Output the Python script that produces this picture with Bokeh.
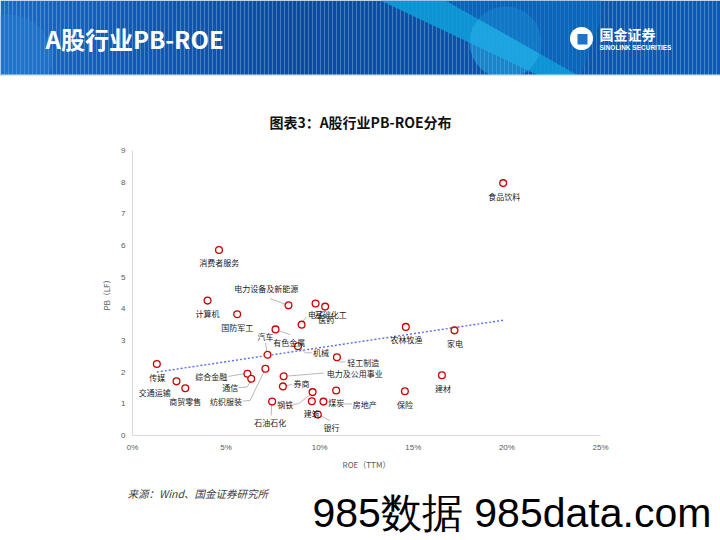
import numpy as np
from bokeh.plotting import figure
from bokeh.models import Range1d, FixedTicker, PrintfTickFormatter
from bokeh.embed import file_html
from bokeh.resources import INLINE
from bokeh.core.properties import value

# ---------------- data ----------------
industries = ["食品饮料", "消费者服务", "电力设备及新能源", "计算机", "国防军工",
              "医药", "基础化工", "电子", "有色金属", "汽车",
              "机械", "轻工制造", "综合金融", "通信", "纺织服装",
              "石油石化", "电力及公用事业", "券商", "钢铁", "建筑",
              "煤炭", "房地产", "银行", "农林牧渔", "家电",
              "建材", "保险", "传媒", "交通运输", "商贸零售"]
roe = [19.80, 4.62, 8.33, 4.01, 5.59,
       9.78, 10.29, 9.03, 7.64, 7.21,
       8.84, 10.92, 6.14, 6.34, 7.10,
       7.46, 8.07, 8.03, 9.62, 9.58,
       10.88, 10.20, 9.90, 14.60, 17.20,
       16.53, 14.55, 1.30, 2.35, 2.82]
pb = [7.97, 5.86, 4.11, 4.26, 3.83,
      4.17, 4.07, 3.50, 3.35, 2.55,
      2.82, 2.47, 1.95, 1.79, 2.11,
      1.07, 1.87, 1.55, 1.37, 1.08,
      1.42, 1.07, 0.66, 3.43, 3.32,
      1.90, 1.40, 2.26, 1.71, 1.49]
x_ticks = [0, 5, 10, 15, 20, 25]
y_ticks = [0, 1, 2, 3, 4, 5, 6, 7, 8, 9]

# ---------------- layout / style (pixels) ----------------
CJK = "Noto Sans CJK SC"
LAT = "Liberation Sans"
# label offsets from each point (px, y down)
lab_off = [(1, 13.3), (0.3, 12.7), (-22.3, -16.4), (0, 13.3), (0, 13.6),
           (10.7, 16.5), (5.7, 8), (14.4, -10.3), (13.7, 12.7), (-2, -18.3),
           (23, 6.6), (26.3, 5.6), (-36.3, 2.7), (-21, 8.4), (-39.3, 32.4),
           (-2, 20.7), (71.2, -3), (18.8, -2.7), (-27.3, 12.3), (0, 12),
           (0, 12.3), (41.4, 3.3), (13.6, 12.5), (0.6, 13), (0.4, 12.7),
           (1.1, 13), (0, 13.3), (0.3, 13.4), (-21.8, 10.7), (0, 13.3)]
# leader lines: index of point -> polyline of px offsets from the point
leaders = {
    2: [(-18.3, -6.7), (-3.3, -1.2)],
    7: [(1.2, -3.3), (4.7, -7.8)],
    8: [(3.2, 1.3), (14.7, 5.3)],
    9: [(-2, -11.8), (-0.6, -2.8)],
    10: [(2.3, 2.1), (7.3, 6.6), (13.8, 6.6)],
    11: [(1, 3), (2, 4.7), (8.5, 4.7)],
    12: [(-19, 2.7), (-2.3, -0.3)],
    13: [(-12.7, 8.7), (-4.3, 8.4), (-0.5, 2.5)],
    14: [(-22.6, 32.4), (-15.3, 31.7), (-1.3, 2.7)],
    15: [(-0.5, 3.3), (-1, 14)],
    16: [(3.2, -0.2), (40.2, -3.2)],
    17: [(3.3, -0.7), (9.3, -2)],
    18: [(-20, 12.3), (-14, 11.6), (-2, 2.3)],
    21: [(20.2, 2.3), (28.4, 2.3)],
    22: [(2.8, 1.3), (12.3, 6.1)],
}

W, H = 720, 540
HEAD_H = 76          # header band
TITLE_B = 140        # bottom of chart-title strip
MAIN_B = 475         # bottom of chart figure
FL, FT, FW, FH = 132, 150, 468, 285  # plot frame in page px


def strip(height):
    f = figure(width=W, height=height, x_range=Range1d(0, W), y_range=Range1d(height, 0),
               output_backend="svg", toolbar_location=None, min_border=0)
    f.axis.visible = False
    f.grid.visible = False
    f.outline_line_color = None
    f.background_fill_color = "white"
    f.border_fill_color = "white"
    return f

# ---------------- header ----------------
h = strip(HEAD_H)
stops_x = [0, 120, 300, 420, 720]
stops_c = [(26, 108, 198), (18, 92, 182), (10, 76, 158), (10, 82, 166), (12, 92, 180)]
lefts = np.arange(0, W, 4)
cols = []
for lx in lefts:
    c = [int(np.interp(lx + 2, stops_x, [s[k] for s in stops_c])) for k in range(3)]
    cols.append("#%02x%02x%02x" % tuple(c))
h.quad(left=lefts, right=lefts + 4, top=0, bottom=HEAD_H, fill_color=cols, line_color=None)
h.circle(x=[8], y=[58], radius=44, fill_color="#2f8ad8", fill_alpha=0.35, line_color=None)
h.patch(x=[380, 445, 580, 540], y=[0, 0, 76, 76], fill_color="#0e9ad8", fill_alpha=0.9, line_color=None)
h.circle(x=[505], y=[42], radius=36, fill_color="#29b3ec", fill_alpha=0.5, line_color=None)
h.patch(x=[445, 600, 600, 580], y=[0, 0, 20, 76], fill_color="#0a70c4", fill_alpha=0.6, line_color=None)
h.quad(left=0, right=W, top=74, bottom=76, fill_color="#d6e7f6", line_color=None)
# logo
h.circle(x=[581], y=[38], radius=11.5, fill_color="white", line_color=None)
h.quad(left=577, right=587, top=33.5, bottom=44, fill_color="#1a74c9", line_color=None)
h.text(x=[45], y=[38], text=["A股行业PB-ROE"], text_color="white", text_font=value(CJK),
       text_font_style="bold", text_font_size="24px", text_baseline="middle", text_align="left")
h.text(x=[599], y=[33], text=["国金证券"], text_color="white", text_font=value(CJK),
       text_font_style="bold", text_font_size="14px", text_baseline="middle", text_align="left")
h.text(x=[599], y=[46.5], text=["SINOLINK SECURITIES"], text_color="white", text_font=value(LAT),
       text_font_style="bold", text_font_size="6.5px", text_baseline="middle", text_align="left")

# ---------------- chart title strip ----------------
t = strip(TITLE_B - HEAD_H)
t.text(x=[360], y=[121 - HEAD_H], text=["图表3：A股行业PB-ROE分布"], text_font=value(CJK),
       text_font_size="14px", text_font_style="bold", text_color="#111111",
       text_align="center", text_baseline="middle")

# ---------------- main chart ----------------
p = figure(width=W, height=MAIN_B - TITLE_B, x_range=Range1d(0, 25), y_range=Range1d(0, 9),
           output_backend="svg", toolbar_location=None,
           min_border_left=FL, min_border_right=W - FL - FW,
           min_border_top=FT - TITLE_B, min_border_bottom=MAIN_B - FT - FH)
p.grid.visible = False
p.outline_line_color = None
p.xaxis.ticker = FixedTicker(ticks=x_ticks)
p.xaxis.formatter = PrintfTickFormatter(format="%d%%")
p.yaxis.ticker = FixedTicker(ticks=y_ticks)
p.xaxis.axis_label = "ROE（TTM）"
p.yaxis.axis_label = "PB（LF）"
for ax in p.axis:
    ax.axis_line_color = "#d9d9d9"
    ax.axis_line_width = 1
    ax.major_tick_line_color = None
    ax.minor_tick_line_color = None
    ax.major_tick_out = 0
    ax.major_tick_in = 0
    ax.minor_tick_out = 0
    ax.minor_tick_in = 0
    ax.major_label_text_font = LAT
    ax.major_label_text_font_size = "8px"
    ax.major_label_text_color = "#595959"
    ax.axis_label_text_font = CJK
    ax.axis_label_text_font_size = "8px"
    ax.axis_label_text_font_style = "normal"
    ax.axis_label_text_color = "#595959"
p.xaxis.major_label_standoff = 7
p.yaxis.major_label_standoff = 7
p.xaxis.axis_label_standoff = 4
p.yaxis.axis_label_standoff = 6

PXX = FW / 25.0
PXY = FH / 9.0

# trendline (linear least squares, as the Excel trendline)
k, b = np.polyfit(roe, pb, 1)
tx = [min(roe), max(roe)]
p.line(tx, [k * v + b for v in tx], line_color="#5a6cf2", line_width=1.4, line_dash="2 2")

# leader lines
lxs, lys = [], []
for i, pts in leaders.items():
    lxs.append([roe[i] + dx / PXX for dx, dy in pts])
    lys.append([pb[i] - dy / PXY for dx, dy in pts])
p.multi_line(lxs, lys, line_color="#a6a6a6", line_width=0.8)

p.scatter(roe, pb, marker="circle", size=6.8, fill_color="white",
          line_color="#cc0000", line_width=1.3)

p.text(x=roe, y=pb, text=industries, x_offset=[o[0] for o in lab_off],
       y_offset=[o[1] for o in lab_off], text_font=value(CJK), text_font_size="8px",
       text_color="#1a1a1a", text_align="center", text_baseline="middle")

# ---------------- footer: source + watermark ----------------
f = strip(H - MAIN_B)
f.text(x=[127], y=[493 - MAIN_B], text=["来源：Wind、国金证券研究所"], text_font=value(CJK),
       text_font_size="10.5px", text_font_style="italic", text_color="#404040",
       text_align="left", text_baseline="middle")
f.text(x=[312], y=[512 - MAIN_B], text=["985数据 985data.com"], text_font=value(LAT),
       text_font_size="41px", text_color="#000000", text_align="left", text_baseline="middle")

open("out.html", "w").write(file_html([h, t, p, f], INLINE, title="A股行业PB-ROE"))
